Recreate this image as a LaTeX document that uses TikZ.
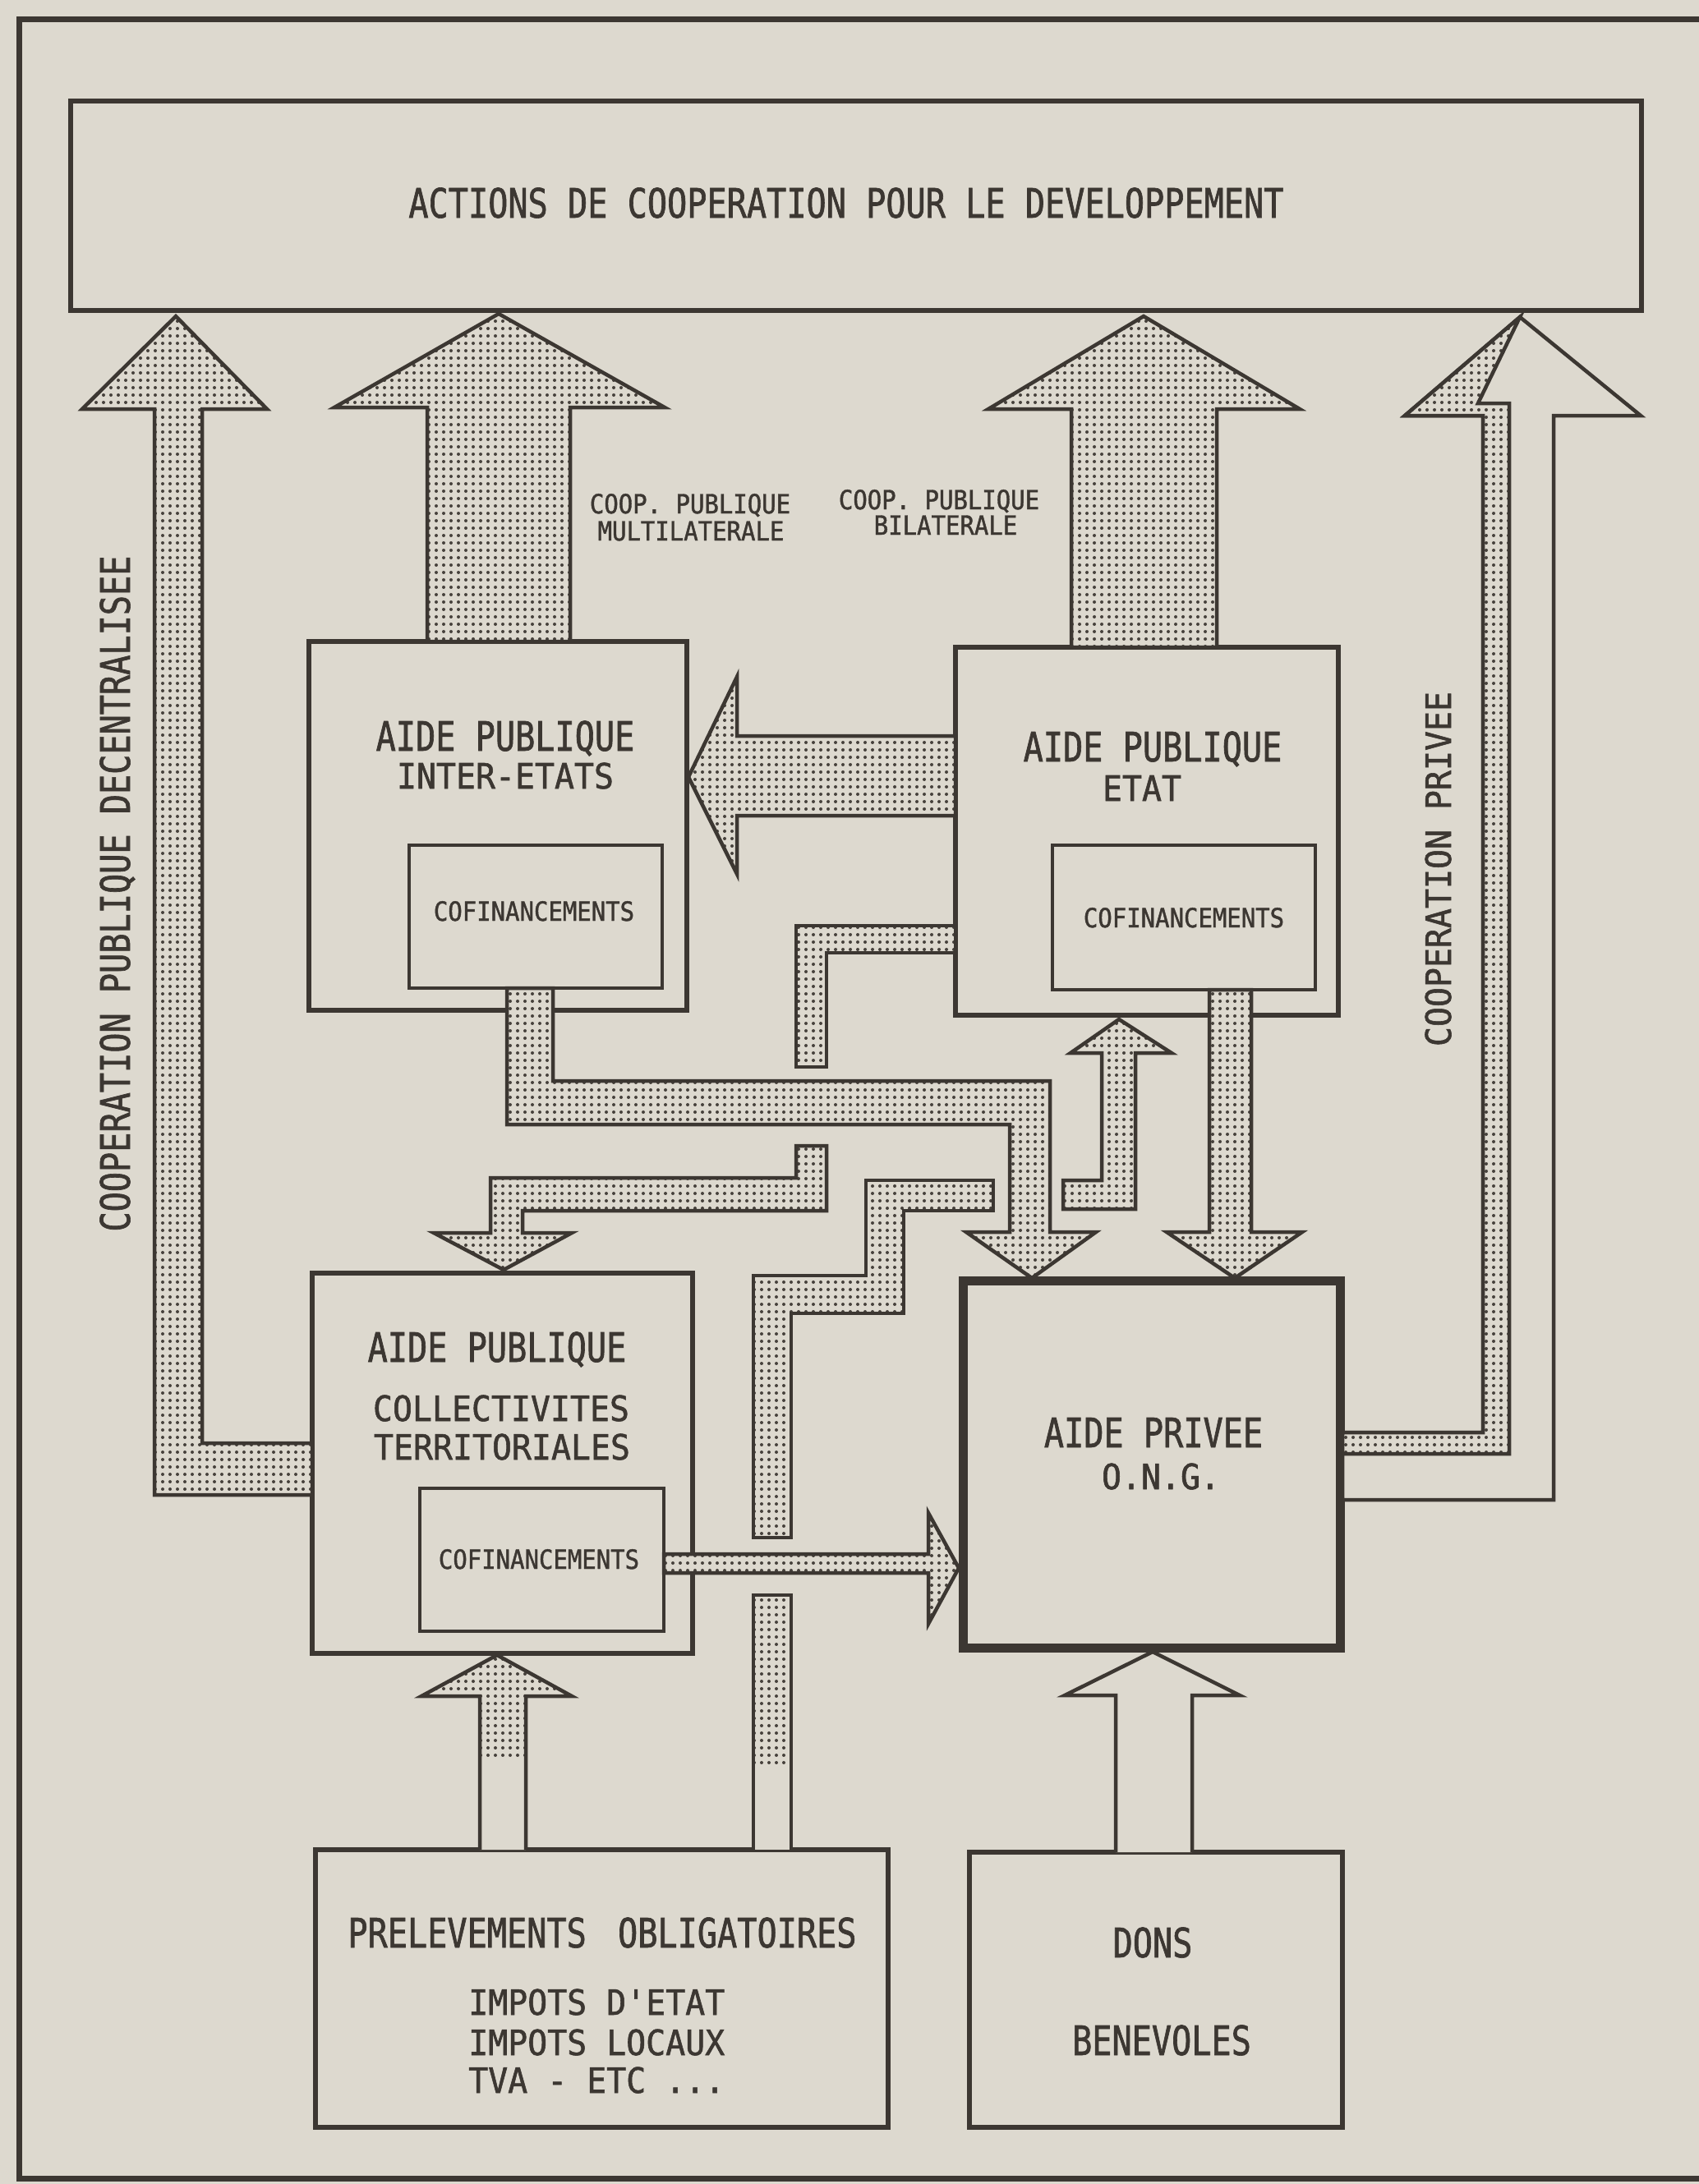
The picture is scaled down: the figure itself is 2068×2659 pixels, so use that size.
\documentclass[tikz,border=0pt]{standalone}
\usepackage{fontspec}
\usetikzlibrary{patterns.meta}
\newfontfamily\fbig[FakeStretch=0.814,FakeBold=1.3]{DejaVu Sans Mono}
\newfontfamily\fmid[FakeStretch=0.938,FakeBold=1.3]{DejaVu Sans Mono}
\newfontfamily\fsml[FakeStretch=0.90,FakeBold=1.3]{DejaVu Sans Mono}
\definecolor{paper}{RGB}{221,217,207}
\definecolor{ink}{RGB}{60,55,50}
\definecolor{dotc}{RGB}{70,65,60}
\tikzset{
  bx/.style={draw=ink, line width=6pt, fill=paper, rectangle, inner sep=0pt},
  cofbox/.style={draw=ink, line width=4.5pt, fill=paper, rectangle, inner sep=0pt},
  ongbox/.style={draw=ink, line width=11pt, fill=paper, rectangle, inner sep=0pt},
  stip/.style={preaction={fill=paper}, pattern={Dots[distance=9pt, radius=2pt]}, pattern color=dotc, draw=ink, line width=4.5pt, line join=miter},
  dotsonly/.style={pattern={Dots[distance=9pt, radius=2pt]}, pattern color=dotc},
  hollow/.style={fill=paper, draw=ink, line width=4.5pt, line join=miter},
  tbig/.style={font=\fbig\fontsize{49.4}{56}\selectfont, text=ink, inner sep=0pt, anchor=base},
  tmid/.style={font=\fmid\fontsize{42.5}{50}\selectfont, text=ink, inner sep=0pt, anchor=base},
  tsml/.style={font=\fsml\fontsize{32.2}{38}\selectfont, text=ink, inner sep=0pt, anchor=base},
}
\begin{document}
\begin{tikzpicture}[x=1pt,y=-1pt]
\useasboundingbox (0,0) rectangle (2068,2659);
\fill[paper] (0,0) rectangle (2068,2659);
% outer frame
\draw[ink, line width=7pt] (2068,23) -- (23,23) -- (23,2652) -- (2068,2652);

% boxes
\node[bx, minimum width=1912pt, minimum height=255pt] (top) at (1042,250.5) {};
\node[bx, minimum width=460pt, minimum height=449pt] (inter) at (606,1005.5) {};
\node[bx, minimum width=466pt, minimum height=448pt] (etat) at (1396,1012) {};
\node[bx, minimum width=463pt, minimum height=463pt] (coll) at (611.5,1781.5) {};
\node[ongbox, minimum width=459pt, minimum height=447pt] (ong) at (1401.5,1782.5) {};
\node[bx, minimum width=697pt, minimum height=338pt] (prel) at (732.5,2421) {};
\node[bx, minimum width=454pt, minimum height=335pt] (dons) at (1407,2422.5) {};
\node[cofbox, minimum width=308pt, minimum height=174pt] (cofI) at (652,1116) {};
\node[cofbox, minimum width=320pt, minimum height=176pt] (cofE) at (1441,1117) {};
\node[cofbox, minimum width=297pt, minimum height=174pt] (cofC) at (659.5,1899) {};

% A1 cooperation publique decentralisee
\draw[stip] (380,1757) -- (246,1757) -- (246,498) -- (325,498) -- (214,385) -- (100,498) -- (188,498) -- (188,1820) -- (380,1820) -- cycle;
% A2 multilaterale
\draw[stip] (520,781) -- (520,496) -- (407,496) -- (607,382) -- (809,496) -- (694,496) -- (694,781) -- cycle;
% A3 bilaterale
\draw[stip] (1304,788) -- (1304,498) -- (1203,498) -- (1392,385) -- (1582,498) -- (1481,498) -- (1481,788) -- cycle;
% A4 cooperation privee
\draw[hollow] (1634,1744) -- (1805,1744) -- (1805,506) -- (1710,506) -- (1850,386) -- (1997,506) -- (1891,506) -- (1891,1826) -- (1634,1826) -- cycle;
\draw[stip] (1634,1744) -- (1805,1744) -- (1805,506) -- (1710,506) -- (1850,386) -- (1799,491) -- (1837,491) -- (1837,1770) -- (1634,1770) -- cycle;
% A5 etat -> inter-etats
\draw[stip] (1163,896) -- (897,896) -- (897,824) -- (838,946) -- (897,1064) -- (897,993) -- (1163,993) -- cycle;
% A6 cofinancements collectivites -> ong
\draw[stip] (808,1892) -- (1130,1892) -- (1130,1842) -- (1167,1909) -- (1130,1977) -- (1130,1915) -- (808,1915) -- cycle;
% A9 etat -> collectivites (upper piece)
\draw[stip] (1163,1127) -- (969,1127) -- (969,1299) -- (1006,1299) -- (1006,1160) -- (1163,1160) -- cycle;
% A7 cofinancements inter-etats -> ong
\draw[stip] (617,1203) -- (617,1369) -- (1229,1369) -- (1229,1500) -- (1176,1500) -- (1256,1556) -- (1334,1500) -- (1278,1500) -- (1278,1316) -- (673,1316) -- (673,1203) -- cycle;
% A9 lower piece
\draw[stip] (1006,1395) -- (1006,1474) -- (636,1474) -- (636,1501) -- (696,1501) -- (613,1546) -- (528,1501) -- (597,1501) -- (597,1434) -- (969,1434) -- (969,1395) -- cycle;
% A8 cofinancements etat -> ong
\draw[stip] (1472,1205) -- (1472,1500) -- (1420,1500) -- (1503,1556) -- (1585,1500) -- (1523,1500) -- (1523,1205) -- cycle;
% A10 prelevements -> etat, middle and upper pieces
\draw[stip] (963,1872) -- (963,1599) -- (1100,1599) -- (1100,1474) -- (1209,1474) -- (1209,1437) -- (1054,1437) -- (1054,1553) -- (917,1553) -- (917,1872) -- cycle;
\draw[stip] (1294,1437) -- (1341,1437) -- (1341,1282) -- (1303,1282) -- (1362,1241) -- (1426,1282) -- (1382,1282) -- (1382,1472) -- (1294,1472) -- cycle;
% A10 lower piece (partly stippled)
\fill[paper] (917,2252) -- (917,1942) -- (963,1942) -- (963,2252) -- cycle;
\begin{scope}
\clip (0,1900) rectangle (2068,2150);
\fill[dotsonly] (917,2252) -- (917,1942) -- (963,1942) -- (963,2252) -- cycle;
\end{scope}
\draw[ink, line width=4.5pt] (917,2252) -- (917,1942) -- (963,1942) -- (963,2252);
% A11 prelevements -> collectivites (partly stippled)
\fill[paper] (584,2252) -- (584,2065) -- (513,2065) -- (605,2015) -- (696,2065) -- (640,2065) -- (640,2252) -- cycle;
\begin{scope}
\clip (0,1990) rectangle (2068,2140);
\fill[dotsonly] (584,2252) -- (584,2065) -- (513,2065) -- (605,2015) -- (696,2065) -- (640,2065) -- (640,2252) -- cycle;
\end{scope}
\draw[ink, line width=4.5pt, line join=miter] (584,2252) -- (584,2065) -- (513,2065) -- (605,2015) -- (696,2065) -- (640,2065) -- (640,2252);
% A12 dons -> ong
\draw[hollow] (1358,2255) -- (1358,2064) -- (1296,2064) -- (1403,2011) -- (1509,2064) -- (1451,2064) -- (1451,2255);

% texts
\node[tbig] (tAct) at (1030,265) {ACTIONS DE COOPERATION POUR LE DEVELOPPEMENT};
\node[tsml] (tMul1) at (840,625) {COOP. PUBLIQUE};
\node[tsml] (tMul2) at (841,658) {MULTILATERALE};
\node[tsml] (tBil1) at (1143,620) {COOP. PUBLIQUE};
\node[tsml] (tBil2) at (1151,651) {BILATERALE};
\node[tbig] (tIE1) at (615,914) {AIDE PUBLIQUE};
\node[tmid] (tIE2) at (615,960) {INTER-ETATS};
\node[tbig] (tE1) at (1403,927) {AIDE PUBLIQUE};
\node[tmid] (tE2) at (1390,975) {ETAT};
\node[tsml] (tCI) at (650,1121) {COFINANCEMENTS};
\node[tsml] (tCE) at (1441,1129) {COFINANCEMENTS};
\node[tsml] (tCC) at (656,1910) {COFINANCEMENTS};
\node[tbig] (tC1) at (605,1658) {AIDE PUBLIQUE};
\node[tmid] (tC2) at (610,1730) {COLLECTIVITES};
\node[tmid] (tC3) at (611,1777) {TERRITORIALES};
\node[tbig] (tO1) at (1404,1762) {AIDE PRIVEE};
\node[tmid] (tO2) at (1413,1813) {O.N.G.};
\node[tbig] (tP1) at (733,2371) {PRELEVEMENTS\hspace{14pt} OBLIGATOIRES};
\node[tmid, anchor=base west] (tP2) at (570,2453) {IMPOTS D'ETAT};
\node[tmid, anchor=base west] (tP3) at (570,2502) {IMPOTS LOCAUX};
\node[tmid, anchor=base west] (tP4) at (570,2548) {TVA - ETC ...};
\node[tbig] (tD1) at (1403,2383) {DONS};
\node[tbig] (tD2) at (1414,2502) {BENEVOLES};
\node[tbig, rotate=90] (tDec) at (158,1088) {COOPERATION PUBLIQUE DECENTRALISEE};
\node[tmid, rotate=90] (tPriv) at (1766,1058) {COOPERATION PRIVEE};
\end{tikzpicture}
\end{document}
